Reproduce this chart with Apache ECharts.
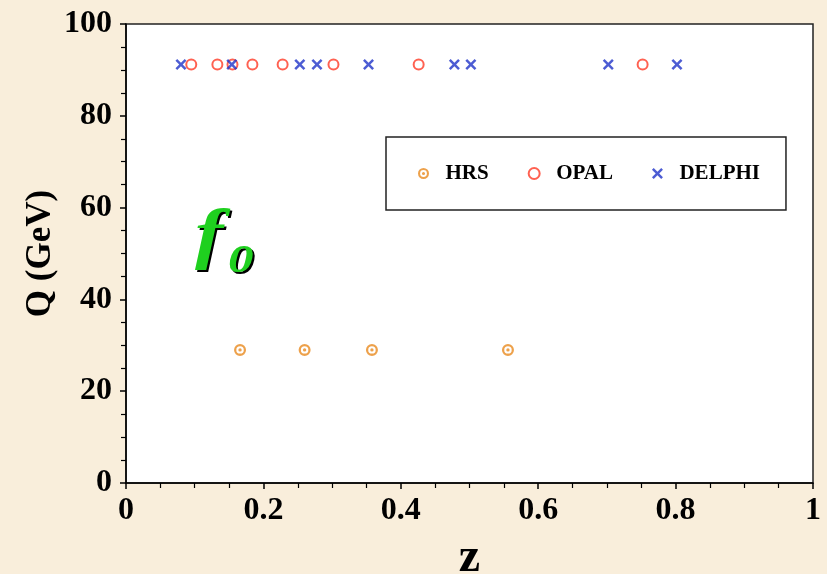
<!DOCTYPE html>
<html>
<head>
<meta charset="utf-8">
<script src="https://cdn.jsdelivr.net/npm/echarts@6.0.0/dist/echarts.min.js"></script>
<style>
  html, body { margin: 0; padding: 0; background: #f9eedb; }
  #chart { width: 827px; height: 574px; }
</style>
</head>
<body>
<div id="chart"></div>
<script>
// Momentum fraction z of f0 measurements at each beam energy Q (GeV)
const hrsZ = [0.166, 0.260, 0.358, 0.556];
const hrsQ = [29, 29, 29, 29];
const opalZ = [0.095, 0.133, 0.155, 0.184, 0.228, 0.302, 0.426, 0.752];
const opalQ = [91.2, 91.2, 91.2, 91.2, 91.2, 91.2, 91.2, 91.2];
const delphiZ = [0.080, 0.154, 0.253, 0.278, 0.353, 0.478, 0.502, 0.702, 0.802];
const delphiQ = [91.2, 91.2, 91.2, 91.2, 91.2, 91.2, 91.2, 91.2, 91.2];

const seriesNames = ['HRS', 'OPAL', 'DELPHI'];
const xTicks = [0, 0.2, 0.4, 0.6, 0.8, 1];
const yTicks = [0, 20, 40, 60, 80, 100];

const pairs = (xs, ys) => xs.map((x, i) => [x, ys[i]]);

const FONT = '"Liberation Serif", "Times New Roman", serif';
const GREEN = '#1fd01f';

// ring with a centre dot, and a filled "x" cross
const dotRing = 'path://M0,-5A5,5 0 1,1 0,5A5,5 0 1,1 0,-5ZM0,-3.1A3.1,3.1 0 1,0 0,3.1A3.1,3.1 0 1,0 0,-3.1ZM0,-1.4A1.4,1.4 0 1,1 0,1.4A1.4,1.4 0 1,1 0,-1.4Z';
const cross = 'path://M0,1.6L1.6,0L5,3.4L8.4,0L10,1.6L6.6,5L10,8.4L8.4,10L5,6.6L1.6,10L0,8.4L3.4,5Z';

// italic "f" with subscript "0", green over a black drop shadow
function symbolText(text, x, y, size) {
  return {
    type: 'text', x: x, y: y, scaleX: 1.25, z: 10,
    style: {
      text: text, fontFamily: FONT, fontStyle: 'italic', fontWeight: 'bold', fontSize: size,
      textAlign: 'left', textVerticalAlign: 'middle'
    }
  };
}
const labelParts = [
  { text: 'f', x: 195, y: 238, size: 68 },
  { text: '0', x: 228, y: 261, size: 41 }
];
const graphics = [];
labelParts.forEach(p => {
  const shadow = symbolText(p.text, p.x + 2, p.y + 2, p.size);
  shadow.style.fill = '#000';
  const face = symbolText(p.text, p.x, p.y, p.size);
  face.style.fill = GREEN;
  face.z = 11;
  graphics.push(shadow, face);
});

const chart = echarts.init(document.getElementById('chart'), null, { renderer: 'canvas' });

chart.setOption({
  backgroundColor: '#f9eedb',
  animation: false,
  grid: {
    left: 126, right: 14, top: 24, bottom: 91,
    outerBoundsMode: 'none',
    containLabel: false,
    show: true, backgroundColor: '#ffffff',
    borderColor: '#222', borderWidth: 1.5
  },
  xAxis: {
    type: 'value', min: xTicks[0], max: xTicks[xTicks.length - 1], interval: 0.2,
    name: 'z', nameLocation: 'middle', nameGap: 52, nameMoveOverlap: false,
    nameTextStyle: { fontFamily: FONT, fontWeight: 'bold', fontSize: 48, color: '#000' },
    axisLine: { lineStyle: { color: '#000', width: 1.5 } },
    axisTick: { show: true, inside: false, length: 6, lineStyle: { color: '#000', width: 1.5 } },
    minorTick: { show: true, splitNumber: 4, length: 5, lineStyle: { color: '#000', width: 1.2 } },
    splitLine: { show: false },
    axisLabel: {
      margin: 12, fontFamily: FONT, fontWeight: 'bold', fontSize: 32, color: '#000',
      formatter: v => String(+v.toFixed(1))
    }
  },
  yAxis: {
    type: 'value', min: yTicks[0], max: yTicks[yTicks.length - 1], interval: 20,
    name: 'Q (GeV)', nameLocation: 'middle', nameGap: 68, nameRotate: 90, nameMoveOverlap: false,
    nameTextStyle: { fontFamily: FONT, fontWeight: 'bold', fontSize: 35, color: '#000' },
    axisLine: { lineStyle: { color: '#000', width: 1.5 } },
    axisTick: { show: true, inside: false, length: 6, lineStyle: { color: '#000', width: 1.5 } },
    minorTick: { show: true, splitNumber: 4, length: 5, lineStyle: { color: '#000', width: 1.2 } },
    splitLine: { show: false },
    axisLabel: { margin: 14, fontFamily: FONT, fontWeight: 'bold', fontSize: 32, color: '#000' }
  },
  legend: {
    left: 386, top: 137,
    orient: 'horizontal',
    data: seriesNames,
    itemWidth: 34, itemHeight: 11, itemGap: 39,
    padding: [26, 26, 26, 32],
    backgroundColor: '#ffffff',
    borderColor: '#222', borderWidth: 1.5,
    textStyle: { fontFamily: FONT, fontWeight: 'bold', fontSize: 21, color: '#000' }
  },
  graphic: graphics,
  series: [
    {
      name: seriesNames[0], type: 'scatter', data: pairs(hrsZ, hrsQ),
      symbol: dotRing, symbolSize: 12,
      itemStyle: { color: '#e88a1e' }
    },
    {
      name: seriesNames[1], type: 'scatter', data: pairs(opalZ, opalQ),
      symbol: 'emptyCircle', symbolSize: 10,
      itemStyle: { color: '#ff3a26', borderColor: '#ff3a26', borderWidth: 2 }
    },
    {
      name: seriesNames[2], type: 'scatter', data: pairs(delphiZ, delphiQ),
      symbol: cross, symbolSize: 11,
      itemStyle: { color: '#1f33c8' }
    }
  ]
});
</script>
</body>
</html>
